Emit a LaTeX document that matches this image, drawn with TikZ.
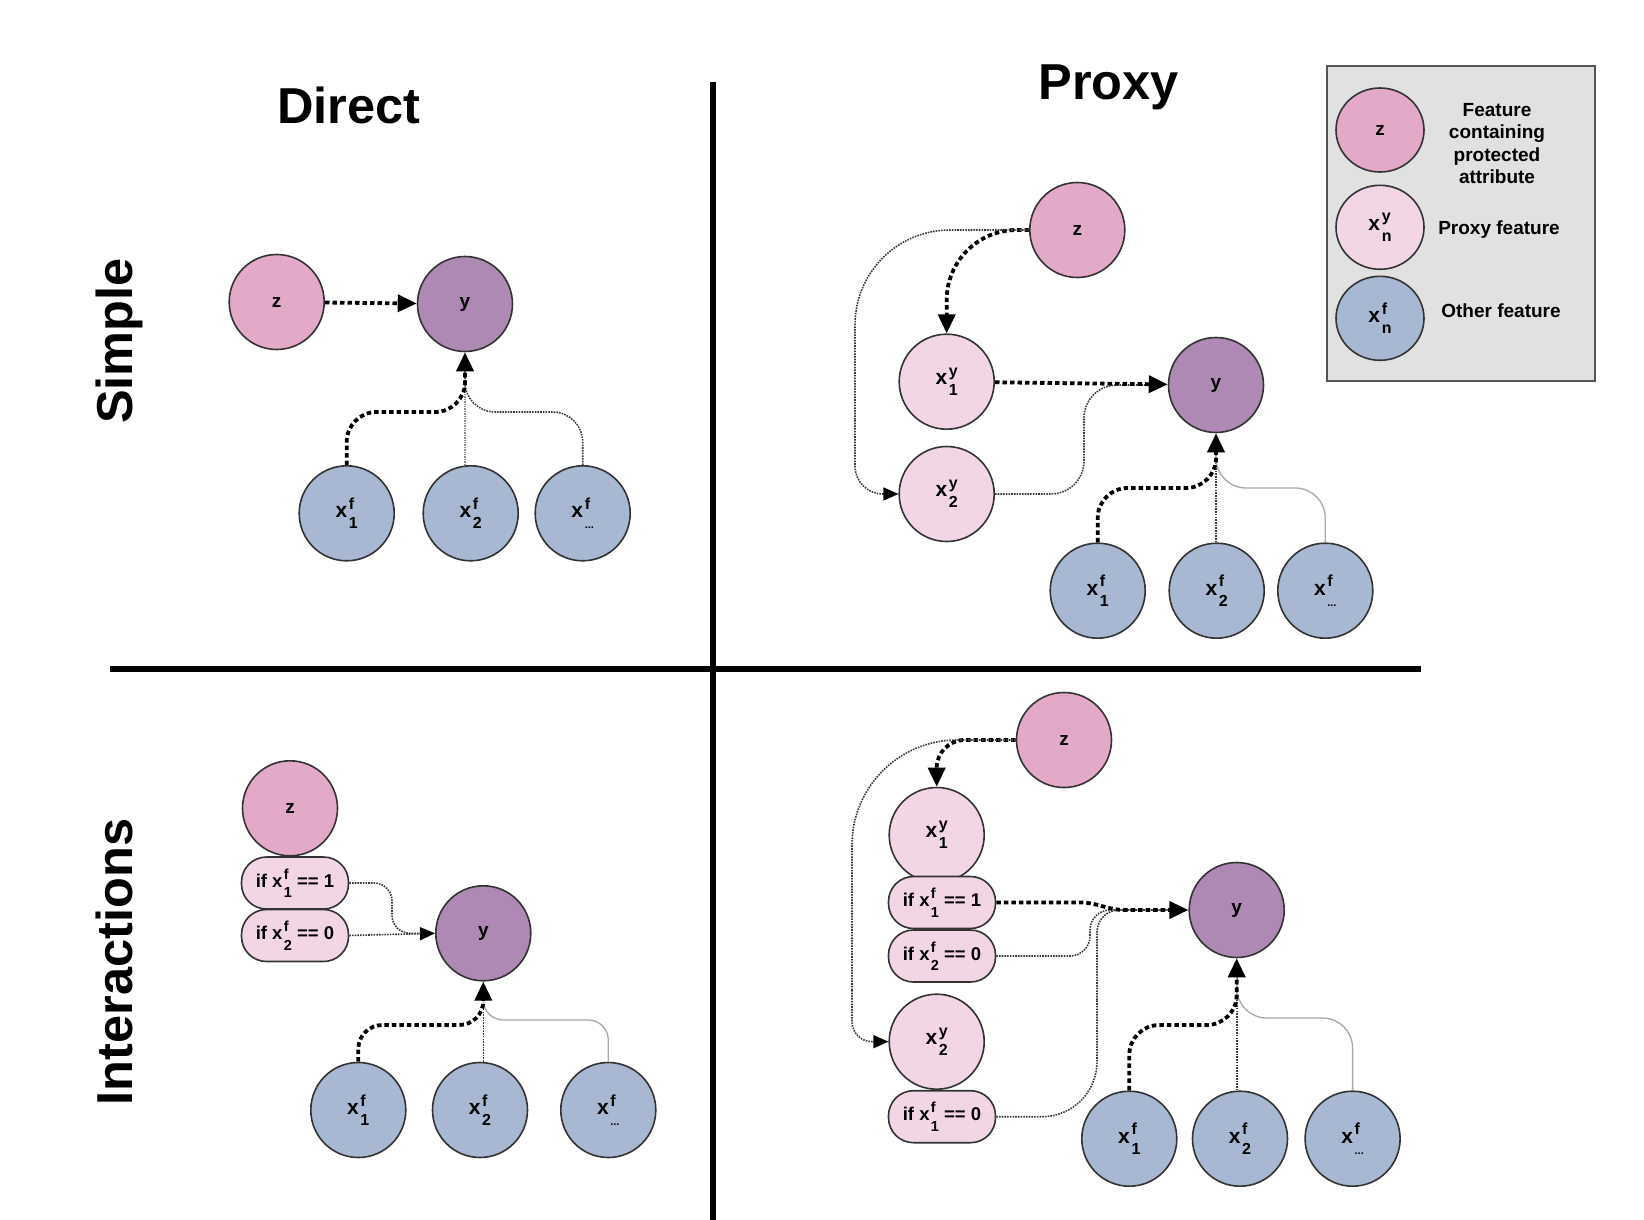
\documentclass[tikz,border=0pt]{standalone}
\usepackage{fontspec}
\setmainfont{Liberation Sans}
\usetikzlibrary{arrows.meta,shapes.geometric}
\definecolor{zpink}{HTML}{E2AAC8}
\definecolor{ypurp}{HTML}{AE89B4}
\definecolor{ppink}{HTML}{F2D6E6}
\definecolor{fblue}{HTML}{A8B8D2}
\definecolor{ndline}{HTML}{333333}
\definecolor{legbg}{HTML}{E1E1E1}
\definecolor{legline}{HTML}{555555}
\definecolor{dotgray}{HTML}{3A3A3A}
\definecolor{lightgr}{HTML}{A8A8A8}
\definecolor{lightdot}{HTML}{8C8C8C}
\newcommand\nodefnt{\fontsize{19}{19}\selectfont\bfseries}
\newcommand\pillfnt{\fontsize{18.5}{18.5}\selectfont\bfseries}
\newcommand\titlefnt{\fontsize{50.5}{55}\selectfont\bfseries}
\newcommand\legfnt{\fontsize{19}{22.2}\selectfont\bfseries}
\newcommand\xlab[2]{{\fontsize{21}{21}\selectfont x}\kern1.6pt\rlap{\raisebox{8.5pt}{\fontsize{16}{16}\selectfont #1}}\raisebox{-11pt}{\fontsize{16}{16}\selectfont #2}}
\newcommand\xlabp[2]{x\kern1.4pt\rlap{\raisebox{8pt}{\fontsize{14.5}{14.5}\selectfont #1}}\raisebox{-10.5pt}{\fontsize{14.5}{14.5}\selectfont #2}}
\newcommand\dotsub{{\fontsize{11}{11}\selectfont\bfseries ...}}
\tikzset{
  nd/.style={circle, draw=ndline, line width=1.6pt, minimum size=95pt, inner sep=0pt, font=\nodefnt},
  zc/.style={nd, fill=zpink},
  yc/.style={nd, fill=ypurp},
  pc/.style={nd, fill=ppink},
  fc/.style={nd, fill=fblue},
  lgell/.style={ellipse, draw=ndline, line width=1.6pt, minimum width=88pt, minimum height=84pt, inner sep=0pt, font=\nodefnt},
  pill/.style={rectangle, rounded corners=25pt, draw=ndline, line width=1.6pt, fill=ppink, minimum width=107pt, minimum height=52pt, inner sep=0pt, font=\pillfnt},
  thickdot/.style={draw=black, line width=3.8pt, dash pattern=on 4.5pt off 3pt},
  thindot/.style={draw=dotgray, line width=1.6pt, dash pattern=on 1.6pt off 1.1pt},
  thinlightdot/.style={draw=lightdot, line width=1.5pt, dash pattern=on 1.4pt off 1pt},
  thinlight/.style={draw=lightgr, line width=1.3pt},
  bigarr/.style={-{Triangle[length=19pt,width=17pt,color=black]}},
  smallarr/.style={-{Triangle[length=15pt,width=13pt,color=black]}},
  divider/.style={draw=black, line width=5.5pt},
  ttl/.style={font=\titlefnt, anchor=base, inner sep=0pt},
}
\begin{document}
\begin{tikzpicture}[x=1pt,y=-1pt]
\useasboundingbox (0,0) rectangle (1644,1220);
\fill[white] (0,0) rectangle (1644,1220);

% dividers
\coordinate (vtop) at (713,82);
\coordinate (vbot) at (713,1220);
\coordinate (hleft) at (110,668.8);
\coordinate (hright) at (1421,668.8);
\draw[divider] (vtop) -- (vbot);
\draw[divider] (hleft) -- (hright);

% titles
\node[ttl] (tdirect) at (348.7,124) {Direct};
\node[ttl] (tproxy) at (1108.5,99.5) {Proxy};
\node[ttl, rotate=90] (tsimple) at (132,341) {Simple};
\node[ttl, rotate=90] (tinter) at (132,962) {Interactions};

% legend
\node[draw=legline, fill=legbg, line width=2pt, minimum width=268pt, minimum height=315pt, anchor=north west, inner sep=0pt] (legbox) at (1326,65) {};
\node[lgell, fill=zpink] (lz) at (1380,130) {z};
\node[lgell, fill=ppink] (lp) at (1380,227.3) {\xlab{y}{n}};
\node[lgell, fill=fblue] (lf) at (1380,318.3) {\xlab{f}{n}};
\node[font=\legfnt, align=center] (lt1) at (1497,143.5) {Feature\\containing\\protected\\attribute};
\node[font=\legfnt] (lt2) at (1499,230) {Proxy feature};
\node[font=\legfnt] (lt3) at (1501,311) {Other feature};

% ---------- top left ----------
\node[zc] (z1) at (276.7,302) {z};
\node[yc] (y1) at (465,304) {y};
\node[fc] (a1) at (346.7,513.3) {\xlab{f}{1}};
\node[fc] (b1) at (470.7,513.3) {\xlab{f}{2}};
\node[fc] (c1) at (582.7,513.3) {\xlab{f}{\dotsub}};
\coordinate (m1) at (465,370.5);
\draw[thickdot,bigarr] (z1) -- (y1);
\draw[thinlightdot] (y1.south |- b1.north) -- (m1);
\draw[thindot,rounded corners=30pt] (c1.north) -- (582.7,412) -- (465,412) -- (m1);
\draw[thickdot,bigarr,rounded corners=30pt] (a1.north) -- (346.7,412) -- (465,412) -- (y1.south);

% ---------- top right ----------
\node[zc] (z2) at (1077.3,230) {z};
\node[pc] (p1) at (946.7,381.7) {\xlab{y}{1}};
\node[pc] (p2) at (946.7,494) {\xlab{y}{2}};
\node[yc] (y2) at (1216,385) {y};
\node[fc] (a2) at (1097.7,590.7) {\xlab{f}{1}};
\node[fc] (b2) at (1216.7,590.7) {\xlab{f}{2}};
\node[fc] (c2) at (1325.3,590.7) {\xlab{f}{\dotsub}};
\coordinate (k2) at (855,420);
\coordinate (m2) at (1150,385);
\coordinate (m2b) at (1216,451.5);
\draw[thickdot,bigarr,rounded corners=70pt] (z2.west) -| (p1.north);
\draw[thindot,rounded corners=95pt] (z2.west) -- (855,230) -- (k2);
\draw[thindot,smallarr,rounded corners=28pt] (k2) -- (855,494) -- (p2.west);
\draw[thindot,rounded corners=33pt] (p2.east) -- (1084,494) -- (1084,385) -- (m2);
\draw[thickdot,bigarr] (p1) -- (y2);
\draw[thindot] (y2.south |- b2.north) -- (m2b);
\draw[thinlight,rounded corners=30pt] (c2.north) -- (1325.3,488) -- (1216,488) -- (m2b);
\draw[thickdot,bigarr,rounded corners=30pt] (a2.north) -- (1097.7,488) -- (1216,488) -- (y2.south);

% ---------- bottom left ----------
\node[zc] (z3) at (290,808.3) {z};
\node[pill] (q1) at (295,883) {if \xlabp{f}{1} == 1};
\node[pill] (q2) at (295,935.5) {if \xlabp{f}{2} == 0};
\node[yc] (y3) at (483.3,933.3) {y};
\node[fc] (a3) at (358.3,1110) {\xlab{f}{1}};
\node[fc] (b3) at (480,1110) {\xlab{f}{2}};
\node[fc] (c3) at (608.3,1110) {\xlab{f}{\dotsub}};
\coordinate (m3) at (421,933.3);
\coordinate (m3b) at (483.3,999.8);
\draw[thindot,smallarr] (q2.east) -- (y3.west);
\draw[thindot,rounded corners=18pt] (q1.east) -- (392,883) -- (392,933.3) -- (m3);
\draw[thindot] (y3.south |- b3.north) -- (m3b);
\draw[thinlight,rounded corners=20pt] (c3.north) -- (608.3,1020) -- (483.3,1020) -- (m3b);
\draw[thickdot,bigarr,rounded corners=24pt] (a3.north) -- (358.3,1025) -- (483.3,1025) -- (y3.south);

% ---------- bottom right ----------
\node[zc] (z4) at (1064,740) {z};
\node[pc] (p3) at (936.7,835) {\xlab{y}{1}};
\node[pc] (p4) at (936.7,1041.7) {\xlab{y}{2}};
\node[pill] (r1) at (942,902.5) {if \xlabp{f}{1} == 1};
\node[pill] (r2) at (942,956) {if \xlabp{f}{2} == 0};
\node[pill] (r3) at (942,1116.7) {if \xlabp{f}{1} == 0};
\node[yc] (y4) at (1236.7,910) {y};
\node[fc] (a4) at (1129.3,1138.7) {\xlab{f}{1}};
\node[fc] (b4) at (1240,1138.7) {\xlab{f}{2}};
\node[fc] (c4) at (1352.6,1138.7) {\xlab{f}{\dotsub}};
\coordinate (k4) at (852,990);
\coordinate (k5) at (1097,1000);
\coordinate (m4) at (1170,910);
\coordinate (m4b) at (1236.7,976.5);
\draw[thickdot,bigarr,rounded corners=28pt] (z4.west) -| (p3.north);
\draw[thindot,rounded corners=105pt] (z4.west) -- (852,740) -- (k4);
\draw[thindot,smallarr,rounded corners=20pt] (k4) -- (852,1041.7) -- (p4.west);
\draw[thindot,rounded corners=20pt] (r2.east) -- (1090,956) -- (1090,910) -- (m4);
\draw[thindot,rounded corners=55pt] (r3.east) -- (1097,1116.7) -- (k5);
\draw[thindot,rounded corners=22pt] (k5) -- (1097,910) -- (m4);
\draw[thickdot,bigarr] (r1.east) -- (1080,902.5) to[out=0,in=180] (1125,910) -- (y4.west);
\draw[thindot] (y4.south |- b4.north) -- (m4b);
\draw[thinlight,rounded corners=30pt] (c4.north) -- (1352.6,1018) -- (1236.7,1018) -- (m4b);
\draw[thickdot,bigarr,rounded corners=30pt] (a4.north) -- (1129.3,1025) -- (1236.7,1025) -- (y4.south);
\end{tikzpicture}
\end{document}
